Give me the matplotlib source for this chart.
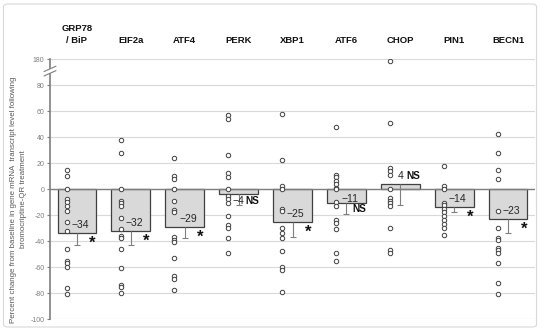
import numpy as np
import matplotlib
matplotlib.use("Agg")
import matplotlib.pyplot as plt
from matplotlib.patches import FancyBboxPatch, Polygon

plt.rcParams['font.family'] = ['Liberation Sans', 'DejaVu Sans']

# ---------------- data ----------------
categories = ["GRP78\n/ BiP", "EIF2a", "ATF4", "PERK", "XBP1", "ATF6", "CHOP", "PIN1", "BECN1"]
bar_values = [-34, -32, -29, -4, -25, -11, 4, -14, -23]
error_minus = [9, 11, 9, 8, 12, 8, 16, 4, 11]
significance = ["*", "*", "*", "NS", "*", "NS", "NS", "*", "*"]

grp78 = [15, 10, 0, -8, -10, -13, -17, -25, -32, -46, -55, -57, -60, -76, -81]
eif2a = [38, 28, 0, -9, -11, -13, -22, -31, -36, -38, -46, -61, -74, -75, -80]
atf4 = [24, 10, 8, 0, -9, -16, -18, -37, -39, -41, -53, -67, -69, -78]
perk = [57, 54, 26, 12, 9, 0, -5, -8, -11, -21, -28, -30, -38, -49]
xbp1 = [58, 22, 2, 0, -15, -17, -30, -34, -38, -48, -60, -62, -79]
atf6 = [48, 11, 9, 6, 4, 1, 0, -10, -13, -24, -26, -31, -49, -55]
chop = [165, 51, 16, 14, 11, 0, -7, -9, -11, -13, -30, -47, -49]
pin1 = [18, 2, 0, -11, -12, -15, -18, -21, -24, -27, -30, -35]
becn1 = [42, 28, 15, 8, -17, -30, -38, -39, -45, -47, -49, -57, -72, -81]
individual = [grp78, eif2a, atf4, perk, xbp1, atf6, chop, pin1, becn1]

y_ticks = [-100, -80, -60, -40, -20, 0, 20, 40, 60, 80, 180]
y_label = ("Percent change from baseline in gene mRNA  transcript level following\n"
           "bromocriptine-QR treatment")

# ---------------- broken-axis scale ----------------
BRK = 90.0
def fwd(v):
    v = np.asarray(v, dtype=float)
    return np.where(v <= BRK, v, BRK + (v - BRK) * 10.0 / 90.0)
def inv(u):
    u = np.asarray(u, dtype=float)
    return np.where(u <= BRK, u, BRK + (u - BRK) * 9.0)

fig = plt.figure(figsize=(5.5, 3.33), dpi=100)
ax = fig.add_axes([50/550, 14/333, 485/550, 260/333])
ax.set_yscale('function', functions=(fwd, inv))
ax.set_ylim(-100, 180)
ax.set_xlim(-0.5, len(categories) - 0.5)

x = np.arange(len(categories))
grid_c = '#d9d9d9'
for t in y_ticks:
    ax.axhline(t, color=grid_c, lw=0.8, zorder=0)

ax.bar(x, bar_values, width=0.72, color='#d9d9d9', edgecolor='#404040',
       linewidth=0.9, zorder=2)
ax.axhline(0, color='#7f7f7f', lw=1.0, zorder=2.5)

# error bars (minus direction only)
vals = np.array(bar_values, dtype=float)
errs = np.array(error_minus, dtype=float)
ax.vlines(x, vals, vals - errs, color='#7f7f7f', lw=0.8, zorder=3)
ax.plot(x, vals - errs, ls='none', marker='_', ms=4, mew=0.8, color='#7f7f7f', zorder=3)

# individual points
for i, pts in enumerate(individual):
    ax.plot(np.full(len(pts), i - 0.19), pts, ls='none', marker='o', ms=3.2,
            mfc='white', mec='#404040', mew=0.7, zorder=4)

txt_c = '#262626'
for i, (v, s) in enumerate(zip(bar_values, significance)):
    vlab = ("\u2212" if v < 0 else "") + str(abs(v))
    if abs(v) <= 5:
        if v < 0:
            ax.text(i - 0.11, v - 5, vlab, ha='left', va='center',
                    fontsize=7.5, color=txt_c, zorder=5)
            ax.text(i + 0.13, v - 5, s, ha='left', va='center', fontsize=7.2,
                    fontweight='bold', color='#111111', zorder=5)
        else:
            ax.text(i, v + 2, vlab, ha='center', va='bottom', fontsize=7.5,
                    color=txt_c, zorder=5)
            ax.text(i + 0.25, v + 2, s, ha='center', va='bottom', fontsize=7.2,
                    fontweight='bold', color='#111111', zorder=5)
    else:
        dy = 6 if abs(v) > 12 else 3
        ax.text(i + 0.06, v + dy, vlab, ha='center', va='center', fontsize=7.5,
                color=txt_c, zorder=5)
        if s == "*":
            ax.text(i + 0.29, v - 8, s, ha='center', va='center', fontsize=12,
                    fontweight='bold', color='#111111', zorder=5)
        else:
            ax.text(i + 0.24, v - 4, s, ha='center', va='center', fontsize=7.2,
                    fontweight='bold', color='#111111', zorder=5)

# category labels on top
for i, c in enumerate(categories):
    ax.text(i, 1.055, c, transform=ax.get_xaxis_transform(), ha='center',
            va='bottom', fontsize=6.8, fontweight='bold', color='#111111',
            linespacing=1.35)

# axes styling
for sp in ['top', 'right', 'bottom']:
    ax.spines[sp].set_visible(False)
ax.spines['left'].set_color('#7f7f7f')
ax.spines['left'].set_linewidth(1.2)
ax.set_xticks([])
ax.set_yticks(y_ticks)
ax.set_yticklabels([str(t) for t in y_ticks])
ax.tick_params(axis='y', length=2.5, width=0.8, color='#7f7f7f', pad=1.5,
               labelsize=5, labelcolor='#7f7f7f')
ax.set_ylabel(y_label, fontsize=5.7, color='#595959', linespacing=1.5, labelpad=8)
ax.yaxis.set_label_coords(-0.048, 0.46)

# axis break symbol
bx = 0.012
poly = Polygon([(-bx, 0.935), (bx, 0.955), (bx, 0.972), (-bx, 0.952)],
               closed=True, transform=ax.transAxes, facecolor='white',
               edgecolor='none', clip_on=False, zorder=6)
ax.add_patch(poly)
ax.plot([-bx, bx], [0.935, 0.955], transform=ax.transAxes, color='#7f7f7f',
        lw=0.8, clip_on=False, zorder=7)
ax.plot([-bx, bx], [0.952, 0.972], transform=ax.transAxes, color='#7f7f7f',
        lw=0.8, clip_on=False, zorder=7)

# chart frame
frame = FancyBboxPatch((3.5/550, 6/333), 533/550, 323/333,
                       boxstyle='round,pad=0,rounding_size=0.008',
                       transform=fig.transFigure, facecolor='none',
                       edgecolor='#d9d9d9', lw=0.8)
fig.patches.append(frame)

fig.savefig('out.png', dpi=100)
